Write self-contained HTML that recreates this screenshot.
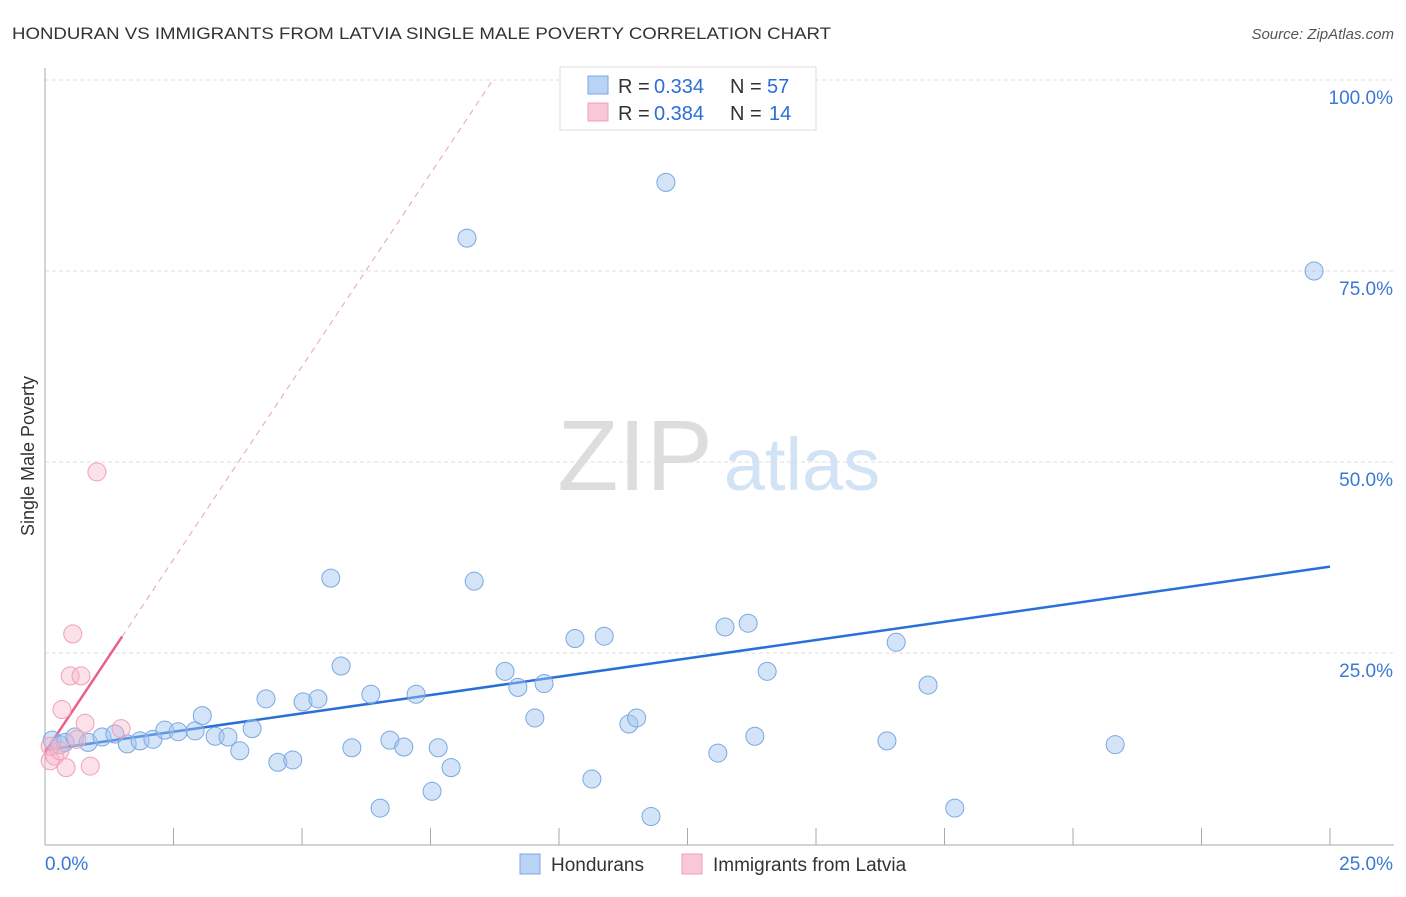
<!DOCTYPE html>
<html><head><meta charset="utf-8"><style>
body{margin:0;background:#fff;font-family:"Liberation Sans",sans-serif;}
svg text{font-family:"Liberation Sans",sans-serif;}
</style></head><body>
<svg width="1406" height="892">
<text x="12" y="39" font-size="17" fill="#333" textLength="819" lengthAdjust="spacingAndGlyphs">HONDURAN VS IMMIGRANTS FROM LATVIA SINGLE MALE POVERTY CORRELATION CHART</text>
<text x="1394" y="39" font-size="15" fill="#555" font-style="italic" text-anchor="end">Source: ZipAtlas.com</text>
<g><text x="635" y="490" font-size="100" fill="#ddd" font-family="Liberation Serif" text-anchor="middle">ZIP</text><text x="802" y="490" font-size="74" fill="#d3e3f6" text-anchor="middle">atlas</text></g>
<g id="grid"></g><g id="axes"></g><g id="lines"></g><g id="pts"></g>
<text transform="translate(34,456) rotate(-90)" font-size="18" fill="#333" text-anchor="middle">Single Male Poverty</text>
<g>
<rect x="560" y="67" width="256" height="63" fill="#fff" stroke="#ddd"/>
<rect x="588" y="76" width="20" height="18" fill="#b8d3f5" stroke="#7aa8e0"/>
<rect x="588" y="103" width="20" height="18" fill="#f9c7d6" stroke="#f0a0b8"/>
<text x="618" y="93" font-size="20" fill="#333">R =</text><text x="654" y="93" font-size="20" fill="#2a6fd6">0.334</text>
<text x="730" y="93" font-size="20" fill="#333">N =</text><text x="767" y="93" font-size="20" fill="#2a6fd6">57</text>
<text x="618" y="120" font-size="20" fill="#333">R =</text><text x="654" y="120" font-size="20" fill="#2a6fd6">0.384</text>
<text x="730" y="120" font-size="20" fill="#333">N =</text><text x="769" y="120" font-size="20" fill="#2a6fd6">14</text>
</g>
<g>
<rect x="520" y="854" width="20" height="20" fill="#b8d3f5" stroke="#7aa8e0"/>
<text x="551" y="871" font-size="19" fill="#333">Hondurans</text>
<rect x="682" y="854" width="20" height="20" fill="#f9c7d6" stroke="#f0a0b8"/>
<text x="713" y="871" font-size="19" fill="#333">Immigrants from Latvia</text>
</g>
</svg>
<script>
const blueX=[0.14,0.29,0.39,0.58,0.84,1.11,1.36,1.60,1.85,2.10,2.33,2.59,2.92,3.06,3.31,3.56,3.79,4.03,4.30,4.53,4.82,5.02,5.31,5.56,5.76,5.97,6.34,6.52,6.71,6.98,7.22,7.53,7.65,7.90,8.21,8.35,8.95,9.20,9.53,9.71,10.31,10.64,10.88,11.36,11.51,11.79,12.08,13.09,13.23,13.68,13.81,14.05,16.38,16.56,17.18,17.70,20.82,24.69];
const blueY=[13.6,13.0,13.3,14.0,13.3,14.0,14.4,13.1,13.5,13.7,14.9,14.7,14.8,16.8,14.1,14.0,12.2,15.1,19.0,10.7,11.0,18.6,19.0,34.8,23.3,12.6,19.6,4.7,13.6,12.7,19.6,6.9,12.6,10.0,79.3,34.4,22.6,20.5,16.5,21.0,26.9,8.5,27.2,15.7,16.5,3.6,86.6,11.9,28.4,28.9,14.1,22.6,13.5,26.4,20.8,4.7,13.0,75.0];
const pinkX=[0.10,0.19,0.29,0.41,0.33,0.49,0.70,0.54,0.78,0.88,1.01,1.48,0.62,0.10];
const pinkY=[10.9,11.5,12.2,10.0,17.6,22.0,22.0,27.5,15.8,10.2,48.7,15.1,13.7,12.8];
const yTicks=[25,50,75,100];
const yTickLabels=["25.0%","50.0%","75.0%","100.0%"];
const xTickVals=[0,2.5,5,7.5,10,12.5,15,17.5,20,22.5,25];
const blueTrend=[12.3,0.96];
const pinkTrend=[12.0,10.1];
const X=v=>45+v*51.4, Y=v=>844-v*7.64;
const NS="http://www.w3.org/2000/svg";
function mk(p,t,a){const e=document.createElementNS(NS,t);for(const k in a)e.setAttribute(k,a[k]);p.appendChild(e);return e;}
const grid=document.getElementById('grid'),axes=document.getElementById('axes'),lines=document.getElementById('lines'),pts=document.getElementById('pts');
yTicks.forEach((v,i)=>{
 const l=mk(grid,'line',{x1:45,x2:1394,y1:Y(v),y2:Y(v),stroke:'#ddd','stroke-dasharray':'4,3'});
 
 
 const t=mk(grid,'text',{x:1393,y:Y(v)+24,'font-size':19,fill:'#3a78d4','text-anchor':'end'});t.textContent=yTickLabels[i];
 
 
});
const ya=mk(axes,'line',{x1:45,x2:45,y1:68,y2:845,stroke:'#aaa'});


const xa=mk(axes,'line',{x1:45,x2:1394,y1:845,y2:845,stroke:'#aaa'});


xTickVals.slice(1).forEach(v=>{const t=mk(axes,'line',{x1:X(v),x2:X(v),y1:828,y2:845,stroke:'#aaa'});
 
 });
const xl0=mk(axes,'text',{x:45,y:870,'font-size':19,fill:'#3a78d4'});xl0.textContent='0.0%';


const xl1=mk(axes,'text',{x:1393,y:870,'font-size':19,fill:'#3a78d4','text-anchor':'end'});xl1.textContent='25.0%';


const bl=mk(lines,'line',{x1:X(0),y1:Y(blueTrend[0]),x2:X(25),y2:Y(blueTrend[0]+25*blueTrend[1]),stroke:'#2a6fd6','stroke-width':2.5});


const pe=(100-pinkTrend[0])/pinkTrend[1];
const pd=mk(lines,'line',{x1:X(1.5),y1:Y(pinkTrend[0]+1.5*pinkTrend[1]),x2:X(pe),y2:Y(100),stroke:'#e8a0b8','stroke-width':1,'stroke-dasharray':'6,5'});


const pl=mk(lines,'line',{x1:X(0),y1:Y(pinkTrend[0]),x2:X(1.5),y2:Y(pinkTrend[0]+1.5*pinkTrend[1]),stroke:'#e8608a','stroke-width':2.5});


blueX.forEach((x,i)=>{const c=mk(pts,'circle',{cx:X(x),cy:Y(blueY[i]),r:9,fill:'rgba(160,196,240,0.45)',stroke:'#7aa8e0','stroke-width':1});
 
 });
pinkX.forEach((x,i)=>{const c=mk(pts,'circle',{cx:X(x),cy:Y(pinkY[i]),r:9,fill:'rgba(248,180,200,0.4)',stroke:'#f0a0b8','stroke-width':1});
 
 });
</script>
</body></html>
